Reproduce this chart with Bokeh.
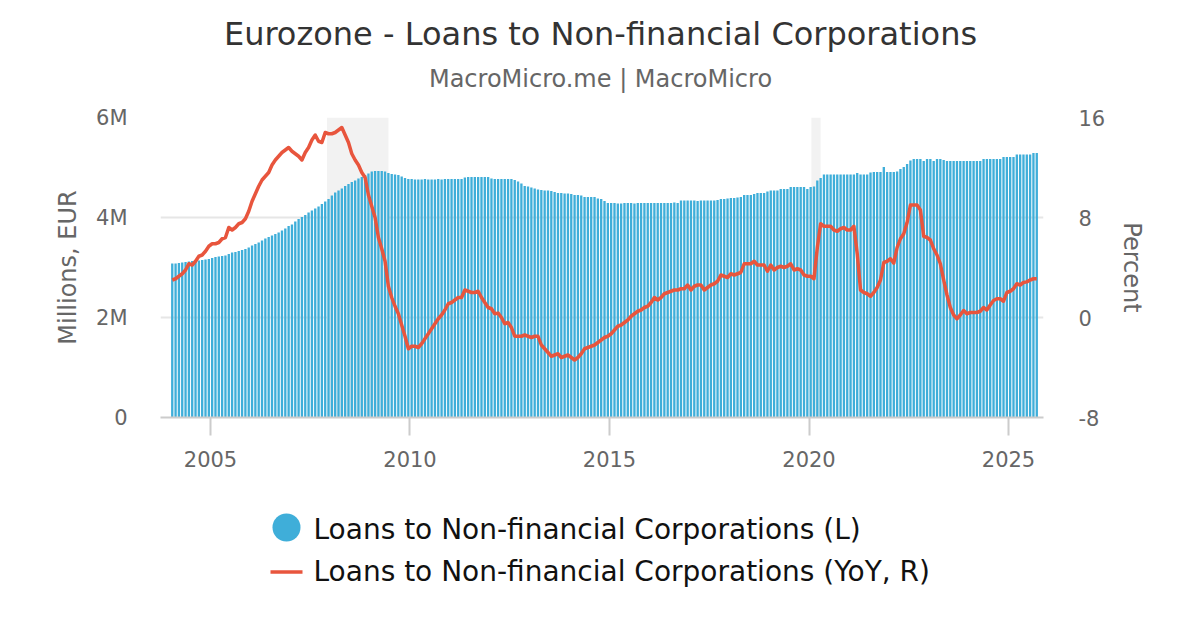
import numpy as np
import pandas as pd
from bokeh.plotting import figure
from bokeh.models import (Range1d, LinearAxis, FixedTicker, CustomJSTickFormatter,
                          BoxAnnotation, ColumnDataSource)
from bokeh.layouts import column
from bokeh.embed import file_html
from bokeh.resources import INLINE
from bokeh.core.properties import value

# ---------------- data ----------------
first_month = "2004-01"
# Loans to non-financial corporations, level (in M of millions EUR, i.e. axis "M")
loans_level = [
    3.08, 3.08, 3.09, 3.10, 3.11, 3.12, 3.13, 3.13, 3.14, 3.15, 3.16, 3.17,  # 2004
    3.19, 3.21, 3.22, 3.23, 3.24, 3.27, 3.30, 3.31, 3.33, 3.35, 3.37, 3.40,  # 2005
    3.44, 3.47, 3.50, 3.54, 3.58, 3.61, 3.64, 3.67, 3.70, 3.74, 3.78, 3.83,  # 2006
    3.86, 3.92, 3.97, 4.01, 4.05, 4.10, 4.14, 4.18, 4.22, 4.27, 4.32, 4.37,  # 2007
    4.44, 4.50, 4.54, 4.58, 4.63, 4.67, 4.71, 4.74, 4.78, 4.81, 4.85, 4.88,  # 2008
    4.92, 4.93, 4.93, 4.93, 4.92, 4.89, 4.87, 4.86, 4.85, 4.82, 4.79, 4.77,  # 2009
    4.77, 4.76, 4.76, 4.76, 4.77, 4.76, 4.76, 4.76, 4.77, 4.76, 4.77, 4.77,  # 2010
    4.77, 4.77, 4.77, 4.77, 4.80, 4.81, 4.81, 4.81, 4.81, 4.81, 4.81, 4.81,  # 2011
    4.78, 4.77, 4.77, 4.77, 4.77, 4.77, 4.77, 4.75, 4.72, 4.68, 4.63, 4.62,  # 2012
    4.60, 4.58, 4.56, 4.55, 4.54, 4.54, 4.53, 4.51, 4.49, 4.49, 4.48, 4.48,  # 2013
    4.47, 4.45, 4.45, 4.44, 4.41, 4.41, 4.41, 4.41, 4.38, 4.37, 4.33, 4.29,  # 2014
    4.29, 4.29, 4.28, 4.28, 4.29, 4.29, 4.29, 4.28, 4.29, 4.29, 4.29, 4.29,  # 2015
    4.29, 4.29, 4.29, 4.29, 4.29, 4.29, 4.29, 4.30, 4.29, 4.34, 4.34, 4.34,  # 2016
    4.34, 4.34, 4.33, 4.34, 4.34, 4.34, 4.34, 4.34, 4.35, 4.37, 4.37, 4.38,  # 2017
    4.39, 4.39, 4.40, 4.41, 4.45, 4.45, 4.45, 4.47, 4.49, 4.49, 4.49, 4.52,  # 2018
    4.54, 4.54, 4.54, 4.57, 4.57, 4.57, 4.61, 4.61, 4.61, 4.61, 4.61, 4.57,  # 2019
    4.61, 4.62, 4.74, 4.79, 4.86, 4.86, 4.86, 4.86, 4.86, 4.86, 4.86, 4.86,  # 2020
    4.86, 4.86, 4.89, 4.86, 4.86, 4.86, 4.90, 4.91, 4.91, 4.91, 5.01, 4.91,  # 2021
    4.91, 4.91, 4.92, 4.97, 5.01, 5.07, 5.14, 5.17, 5.17, 5.17, 5.13, 5.17,  # 2022
    5.17, 5.13, 5.17, 5.17, 5.15, 5.13, 5.13, 5.13, 5.13, 5.13, 5.13, 5.13,  # 2023
    5.13, 5.13, 5.13, 5.13, 5.17, 5.17, 5.17, 5.17, 5.17, 5.17, 5.21, 5.21,  # 2024
    5.21, 5.21, 5.26, 5.26, 5.26, 5.26, 5.26, 5.29, 5.29,                    # 2025
]
# Year-over-year change, percent
loans_yoy = [
    3.0, 3.1, 3.3, 3.5, 3.8, 4.3, 4.2, 4.5, 4.9, 5.0, 5.3, 5.7,              # 2004
    5.9, 5.9, 6.0, 6.3, 6.4, 7.2, 7.0, 7.2, 7.5, 7.6, 7.9, 8.5,              # 2005
    9.3, 9.9, 10.5, 11.0, 11.3, 11.6, 12.2, 12.6, 12.9, 13.2, 13.4, 13.6,    # 2006
    13.3, 13.1, 12.9, 12.6, 13.2, 13.6, 14.2, 14.6, 14.1, 14.0, 14.8, 14.7,  # 2007
    14.7, 14.8, 15.0, 15.2, 14.6, 14.0, 13.1, 12.6, 12.2, 11.6, 11.2, 9.8,   # 2008
    8.9, 8.0, 6.4, 5.5, 4.5, 2.5, 1.6, 0.9, 0.3, -0.6, -1.5, -2.5,           # 2009
    -2.3, -2.3, -2.4, -2.1, -1.7, -1.3, -0.9, -0.5, -0.1, 0.2, 0.6, 1.1,     # 2010
    1.2, 1.4, 1.6, 1.6, 2.2, 2.1, 2.0, 2.0, 2.1, 1.6, 1.2, 0.8,              # 2011
    0.7, 0.3, 0.35, 0.0, -0.5, -0.4, -0.8, -1.5, -1.5, -1.5, -1.4, -1.5,     # 2012
    -1.6, -1.5, -1.5, -2.2, -2.5, -2.8, -3.1, -3.0, -2.9, -3.2, -3.1, -3.0,  # 2013
    -3.2, -3.4, -3.2, -2.9, -2.5, -2.4, -2.3, -2.2, -2.0, -1.8, -1.6, -1.5,  # 2014
    -1.3, -1.0, -0.7, -0.6, -0.4, -0.2, 0.1, 0.3, 0.5, 0.6, 0.8, 0.9,        # 2015
    1.2, 1.6, 1.4, 1.6, 1.9, 2.0, 2.1, 2.2, 2.2, 2.3, 2.3, 2.6,              # 2016
    2.2, 2.5, 2.6, 2.6, 2.2, 2.4, 2.6, 2.7, 2.9, 3.4, 3.3, 3.2,              # 2017
    3.5, 3.4, 3.5, 3.6, 4.3, 4.3, 4.3, 4.5, 4.2, 4.2, 4.2, 3.7,              # 2018
    4.2, 3.8, 4.0, 4.1, 4.0, 4.1, 4.3, 3.8, 3.9, 3.8, 3.4, 3.3,              # 2019
    3.3, 3.1, 5.6, 7.5, 7.3, 7.3, 7.3, 7.0, 6.9, 7.1, 7.2, 7.0,              # 2020
    7.0, 7.3, 5.1, 2.2, 2.0, 1.9, 1.7, 2.0, 2.4, 3.0, 4.4, 4.5,              # 2021
    4.7, 4.35, 5.6, 6.3, 6.7, 7.6, 9.0, 9.0, 9.0, 8.6, 6.5, 6.4,             # 2022
    6.2, 5.5, 5.0, 4.3, 3.0, 1.8, 0.8, 0.2, -0.1, 0.2, 0.56, 0.3,            # 2023
    0.4, 0.4, 0.4, 0.5, 0.8, 0.6, 1.0, 1.36, 1.5, 1.5, 1.3, 2.0,             # 2024
    2.1, 2.3, 2.7, 2.6, 2.8, 2.85, 3.0, 3.1, 3.1,                            # 2025
]
recession_start = [2007.92, 2020.06]
recession_end = [2009.46, 2020.29]
x_ticks = [2005, 2010, 2015, 2020, 2025]
left_ticks = [0, 2, 4, 6]
right_ticks = [-8, 0, 8, 16]

title_text = "Eurozone - Loans to Non-financial Corporations"
subtitle_text = "MacroMicro.me | MacroMicro"
label_bars = "Loans to Non-financial Corporations (L)"
label_line = "Loans to Non-financial Corporations (YoY, R)"

BLUE = "#3FAED9"
RED = "#E8553D"
FONT = "DejaVu Sans"
TICK = "#666666"

months = pd.date_range(first_month, periods=len(loans_level), freq="MS")
xdec = months.year + (months.month - 1) / 12 + 1 / 24
src = ColumnDataSource(dict(x=np.asarray(xdec), level=loans_level, yoy=loans_yoy))

# ---------------- layout geometry (page pixels) ----------------
W = 1192
FL, FR = 160, 1043           # plot frame left/right
HEAD_H = 105                 # header (titles)
TOP_B, FRAME_H, BOT_B = 12, 300, 81
MAIN_H = TOP_B + FRAME_H + BOT_B
LEG_H = 124
LEG_TOP = HEAD_H + MAIN_H


def blank(height, top):
    f = figure(width=W, height=height, output_backend="svg", toolbar_location=None,
               x_range=Range1d(FL, FR), y_range=Range1d(top + height, top),
               min_border_left=FL, min_border_right=W - FR,
               min_border_top=0, min_border_bottom=0)
    f.outline_line_color = None
    f.axis.visible = False
    f.grid.visible = False
    return f


# ---------------- header ----------------
hd = blank(HEAD_H, 0)
hd.text(x=[600], y=[33], text=[title_text], text_font=value(FONT),
        text_font_size="32px", text_color="#333333", text_align="center",
        text_baseline="middle")
hd.text(x=[600], y=[78], text=[subtitle_text], text_font=value(FONT),
        text_font_size="24px", text_color="#666666", text_align="center",
        text_baseline="middle")

# ---------------- main figure ----------------
p = figure(width=W, height=MAIN_H, output_backend="svg", toolbar_location=None,
           x_range=Range1d(2003.747, 2025.877), y_range=Range1d(0, 6),
           min_border_left=FL, min_border_right=W - FR, min_border_top=TOP_B,
           min_border_bottom=BOT_B)
p.outline_line_color = None
p.extra_y_ranges = {"pct": Range1d(-8, 16)}

for s, e in zip(recession_start, recession_end):
    p.add_layout(BoxAnnotation(left=s, right=e, fill_color="#F2F2F2", fill_alpha=1,
                               line_color=None, level="underlay"))

p.vbar(x="x", top="level", bottom=0, width=(1 / 12) * 0.7, source=src,
       fill_color=BLUE, line_color=None)
p.line(x="x", y="yoy", source=src, y_range_name="pct", line_color=RED,
       line_width=3.5, line_join="round")

p.xgrid.grid_line_color = None
p.ygrid.ticker = FixedTicker(ticks=left_ticks)
p.ygrid.grid_line_color = "#E6E6E6"
p.ygrid.grid_line_width = 2

xa = p.xaxis[0]
xa.ticker = FixedTicker(ticks=x_ticks)
xa.axis_line_color = "#CCCCCC"
xa.axis_line_width = 2
xa.major_tick_line_color = "#CCCCCC"
xa.major_tick_line_width = 2
xa.major_tick_in = 0
xa.major_tick_out = 18
xa.minor_tick_line_color = None
xa.major_label_standoff = 15
xa.major_label_text_font = FONT
xa.major_label_text_font_size = "21px"
xa.major_label_text_color = TICK

ya = p.yaxis[0]
ya.ticker = FixedTicker(ticks=left_ticks)
ya.formatter = CustomJSTickFormatter(code="return tick == 0 ? '0' : tick + 'M';")
ya.axis_line_color = None
ya.major_tick_line_color = None
ya.minor_tick_line_color = None
ya.major_label_standoff = 27
ya.major_label_text_font = FONT
ya.major_label_text_font_size = "21px"
ya.major_label_text_color = TICK
ya.axis_label = "Millions, EUR"
ya.axis_label_text_font = FONT
ya.axis_label_text_font_size = "24px"
ya.axis_label_text_font_style = "normal"
ya.axis_label_text_color = TICK
ya.axis_label_standoff = 11

ra = LinearAxis(y_range_name="pct", ticker=FixedTicker(ticks=right_ticks))
ra.formatter = CustomJSTickFormatter(code="return tick.toString();")
ra.axis_line_color = None
ra.major_tick_line_color = None
ra.minor_tick_line_color = None
ra.major_label_standoff = 29
ra.major_label_text_font = FONT
ra.major_label_text_font_size = "21px"
ra.major_label_text_color = TICK
ra.axis_label = "Percent"
ra.axis_label_text_font = FONT
ra.axis_label_text_font_size = "24px"
ra.axis_label_text_font_style = "normal"
ra.axis_label_text_color = TICK
ra.axis_label_standoff = 10
p.add_layout(ra, "right")

# ---------------- legend ----------------
lg = blank(LEG_H, LEG_TOP)
lg.scatter(x=[286], y=[527], marker="circle", size=28, fill_color=BLUE, line_color=None)
lg.line(x=[270, 302], y=[571.5, 571.5], line_color=RED, line_width=3.5)
lg.text(x=[313, 313], y=[529, 571], text=[label_bars, label_line],
        text_font=value(FONT), text_font_size="28px", text_color="#111111",
        text_baseline="middle", text_align="left")

layout = column(hd, p, lg, spacing=0)
open("out.html", "w").write(file_html(layout, INLINE))
